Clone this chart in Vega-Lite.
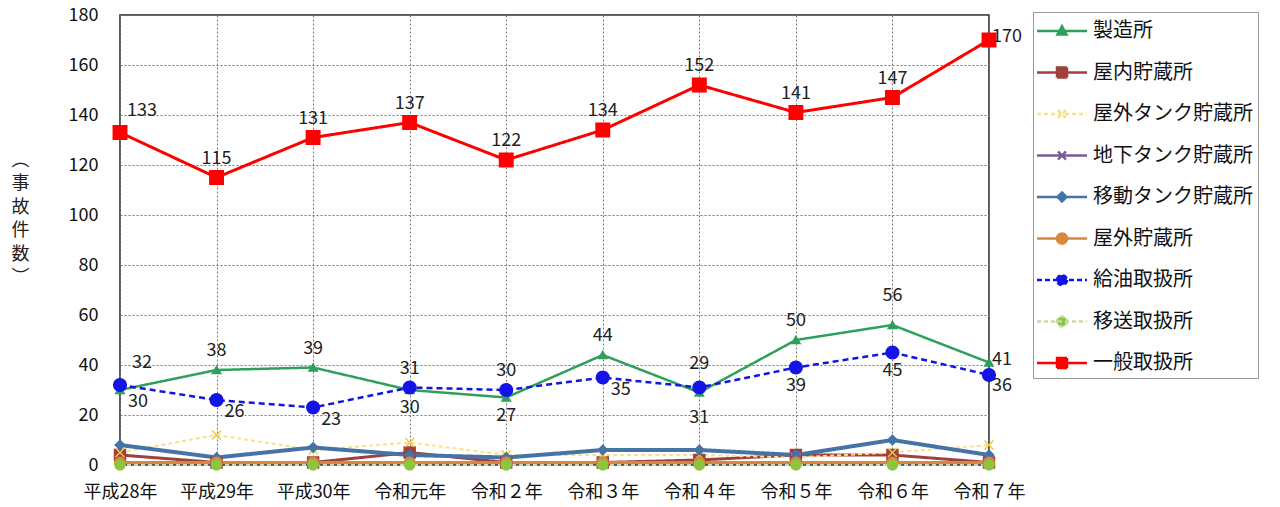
{
  "$schema": "https://vega.github.io/schema/vega-lite/v6.json",
  "width": 869,
  "height": 450,
  "autosize": {"type": "none"},
  "padding": {"left": 120, "top": 15, "right": 291, "bottom": 42},
  "background": "white",
  "config": {
    "font": "Noto Sans CJK JP",
    "view": {"stroke": "#222", "strokeWidth": 1.5},
    "axis": {"labelFont": "Noto Sans CJK JP", "labelColor": "#111", "labelFontSize": 18, "domain": false, "ticks": false, "gridColor": "#777", "gridDash": [2, 2], "gridWidth": 1}
  },
  "data": {"values": [
    {"series":"製造所","year":"平成28年","value":30},{"series":"製造所","year":"平成29年","value":38},{"series":"製造所","year":"平成30年","value":39},{"series":"製造所","year":"令和元年","value":30},{"series":"製造所","year":"令和２年","value":27},{"series":"製造所","year":"令和３年","value":44},{"series":"製造所","year":"令和４年","value":29},{"series":"製造所","year":"令和５年","value":50},{"series":"製造所","year":"令和６年","value":56},{"series":"製造所","year":"令和７年","value":41},
    {"series":"屋内貯蔵所","year":"平成28年","value":4},{"series":"屋内貯蔵所","year":"平成29年","value":1},{"series":"屋内貯蔵所","year":"平成30年","value":1},{"series":"屋内貯蔵所","year":"令和元年","value":5},{"series":"屋内貯蔵所","year":"令和２年","value":1},{"series":"屋内貯蔵所","year":"令和３年","value":1},{"series":"屋内貯蔵所","year":"令和４年","value":2},{"series":"屋内貯蔵所","year":"令和５年","value":4},{"series":"屋内貯蔵所","year":"令和６年","value":4},{"series":"屋内貯蔵所","year":"令和７年","value":1},
    {"series":"屋外タンク貯蔵所","year":"平成28年","value":5},{"series":"屋外タンク貯蔵所","year":"平成29年","value":12},{"series":"屋外タンク貯蔵所","year":"平成30年","value":6},{"series":"屋外タンク貯蔵所","year":"令和元年","value":9},{"series":"屋外タンク貯蔵所","year":"令和２年","value":4},{"series":"屋外タンク貯蔵所","year":"令和３年","value":4},{"series":"屋外タンク貯蔵所","year":"令和４年","value":4},{"series":"屋外タンク貯蔵所","year":"令和５年","value":3},{"series":"屋外タンク貯蔵所","year":"令和６年","value":5},{"series":"屋外タンク貯蔵所","year":"令和７年","value":8},
    {"series":"地下タンク貯蔵所","year":"平成28年","value":1},{"series":"地下タンク貯蔵所","year":"平成29年","value":1},{"series":"地下タンク貯蔵所","year":"平成30年","value":1},{"series":"地下タンク貯蔵所","year":"令和元年","value":1},{"series":"地下タンク貯蔵所","year":"令和２年","value":1},{"series":"地下タンク貯蔵所","year":"令和３年","value":1},{"series":"地下タンク貯蔵所","year":"令和４年","value":1},{"series":"地下タンク貯蔵所","year":"令和５年","value":1},{"series":"地下タンク貯蔵所","year":"令和６年","value":1},{"series":"地下タンク貯蔵所","year":"令和７年","value":1},
    {"series":"移動タンク貯蔵所","year":"平成28年","value":8},{"series":"移動タンク貯蔵所","year":"平成29年","value":3},{"series":"移動タンク貯蔵所","year":"平成30年","value":7},{"series":"移動タンク貯蔵所","year":"令和元年","value":4},{"series":"移動タンク貯蔵所","year":"令和２年","value":3},{"series":"移動タンク貯蔵所","year":"令和３年","value":6},{"series":"移動タンク貯蔵所","year":"令和４年","value":6},{"series":"移動タンク貯蔵所","year":"令和５年","value":4},{"series":"移動タンク貯蔵所","year":"令和６年","value":10},{"series":"移動タンク貯蔵所","year":"令和７年","value":4},
    {"series":"屋外貯蔵所","year":"平成28年","value":1},{"series":"屋外貯蔵所","year":"平成29年","value":1},{"series":"屋外貯蔵所","year":"平成30年","value":1},{"series":"屋外貯蔵所","year":"令和元年","value":1},{"series":"屋外貯蔵所","year":"令和２年","value":1},{"series":"屋外貯蔵所","year":"令和３年","value":1},{"series":"屋外貯蔵所","year":"令和４年","value":1},{"series":"屋外貯蔵所","year":"令和５年","value":1},{"series":"屋外貯蔵所","year":"令和６年","value":1},{"series":"屋外貯蔵所","year":"令和７年","value":1},
    {"series":"給油取扱所","year":"平成28年","value":32},{"series":"給油取扱所","year":"平成29年","value":26},{"series":"給油取扱所","year":"平成30年","value":23},{"series":"給油取扱所","year":"令和元年","value":31},{"series":"給油取扱所","year":"令和２年","value":30},{"series":"給油取扱所","year":"令和３年","value":35},{"series":"給油取扱所","year":"令和４年","value":31},{"series":"給油取扱所","year":"令和５年","value":39},{"series":"給油取扱所","year":"令和６年","value":45},{"series":"給油取扱所","year":"令和７年","value":36},
    {"series":"移送取扱所","year":"平成28年","value":0},{"series":"移送取扱所","year":"平成29年","value":0},{"series":"移送取扱所","year":"平成30年","value":0},{"series":"移送取扱所","year":"令和元年","value":0},{"series":"移送取扱所","year":"令和２年","value":0},{"series":"移送取扱所","year":"令和３年","value":0},{"series":"移送取扱所","year":"令和４年","value":0},{"series":"移送取扱所","year":"令和５年","value":0},{"series":"移送取扱所","year":"令和６年","value":0},{"series":"移送取扱所","year":"令和７年","value":0},
    {"series":"一般取扱所","year":"平成28年","value":133},{"series":"一般取扱所","year":"平成29年","value":115},{"series":"一般取扱所","year":"平成30年","value":131},{"series":"一般取扱所","year":"令和元年","value":137},{"series":"一般取扱所","year":"令和２年","value":122},{"series":"一般取扱所","year":"令和３年","value":134},{"series":"一般取扱所","year":"令和４年","value":152},{"series":"一般取扱所","year":"令和５年","value":141},{"series":"一般取扱所","year":"令和６年","value":147},{"series":"一般取扱所","year":"令和７年","value":170}
  ]},
  "encoding": {
    "x": {"field": "year", "type": "ordinal", "sort": ["平成28年","平成29年","平成30年","令和元年","令和２年","令和３年","令和４年","令和５年","令和６年","令和７年"], "scale": {"type": "point", "padding": 0}, "axis": {"title": null, "labelAngle": 0, "labelPadding": 18, "grid": true}},
    "y": {"field": "value", "type": "quantitative", "scale": {"domain": [0, 180], "nice": false}, "axis": {"values": [0,20,40,60,80,100,120,140,160,180], "labelPadding": 22, "title": ["︵","事","故","件","数","︶"], "titleAngle": 0, "titleX": -100, "titleY": 136, "titleAlign": "center", "titleBaseline": "top", "titleFontSize": 18, "titleFontWeight": "normal", "titleLineHeight": 23.5, "titleColor": "#222", "titleFont": "Noto Sans CJK JP"}}
  },
  "layer": [
    {
      "mark": {"type": "line"},
      "encoding": {
        "color": {"field": "series", "type": "nominal",
          "scale": {"domain": ["製造所","屋内貯蔵所","屋外タンク貯蔵所","地下タンク貯蔵所","移動タンク貯蔵所","屋外貯蔵所","給油取扱所","移送取扱所","一般取扱所"],
                    "range": ["#2ea05c","#a0403c","#f5e38c","#7a5b96","#4673a6","#d9873b","#1414e6","#c6dca4","#ff0000"]},
          "legend": {"title": null, "orient": "none", "legendX": 913, "legendY": -3, "strokeColor": "#999", "fillColor": "white", "padding": 5,
            "symbolSize": 625, "labelFontSize": 20, "labelFont": "Noto Sans CJK JP", "labelColor": "#111", "rowPadding": 17.5, "symbolOffset": 10, "labelOffset": 17, "labelLimit": 300,
            "encode": {"symbols": {"update": {
              "shape": {"signal": "datum.value==='製造所' ? 'M-2,0H2M0,-0.38L0.36,0.28H-0.36Z' : (datum.value==='屋内貯蔵所' || datum.value==='一般取扱所') ? 'M-2,0H2M-0.4,-0.4H0.4V0.4H-0.4Z' : (datum.value==='屋外タンク貯蔵所' || datum.value==='地下タンク貯蔵所') ? 'M-2,0H2M-0.32,-0.32L0.32,0.32M-0.32,0.32L0.32,-0.32' : datum.value==='移動タンク貯蔵所' ? 'M-2,0H2M0,-0.36L0.36,0L0,0.36L-0.36,0Z' : 'M-2,0H2M0.4,0A0.4,0.4 0 1,1 -0.4,0A0.4,0.4 0 1,1 0.4,0Z'"},
              "fill": {"signal": "datum.value==='屋外タンク貯蔵所' ? '#f2c744' : datum.value==='移送取扱所' ? '#8cc63f' : scale('color', datum.value)"},
              "stroke": {"signal": "scale('color', datum.value)"},
              "strokeWidth": {"value": 2.5},
              "strokeDash": {"signal": "(datum.value==='給油取扱所') ? [5,3] : (datum.value==='屋外タンク貯蔵所' || datum.value==='移送取扱所') ? [4,3] : [1,0]"},
              "opacity": {"value": 1}
            }}}
          }},
        "strokeDash": {"condition": [{"test": "datum.series==='給油取扱所'", "value": [6, 4]}, {"test": "datum.series==='屋外タンク貯蔵所' || datum.series==='移送取扱所'", "value": [4, 3]}], "value": [1, 0]},
        "strokeWidth": {"condition": [{"test": "datum.series==='移動タンク貯蔵所'", "value": 4}, {"test": "datum.series==='屋外タンク貯蔵所' || datum.series==='移送取扱所'", "value": 2}, {"test": "datum.series==='製造所' || datum.series==='給油取扱所'", "value": 2.5}], "value": 3}
      }
    },
    {
      "mark": {"type": "point", "filled": true, "opacity": 1, "strokeWidth": 1.5},
      "encoding": {
        "shape": {"condition": [{"test": "datum.series==='製造所'", "value": "triangle-up"}, {"test": "datum.series==='屋内貯蔵所' || datum.series==='一般取扱所'", "value": "square"}, {"test": "datum.series==='屋外タンク貯蔵所' || datum.series==='地下タンク貯蔵所'", "value": "M-1,-1L1,1M-1,1L1,-1"}, {"test": "datum.series==='移動タンク貯蔵所'", "value": "diamond"}], "value": "circle"},
        "fill": {"condition": [{"test": "datum.series==='製造所'", "value": "#2ea05c"}, {"test": "datum.series==='屋内貯蔵所'", "value": "#a0403c"}, {"test": "datum.series==='屋外タンク貯蔵所'", "value": "#f2c744"}, {"test": "datum.series==='地下タンク貯蔵所'", "value": "#7a5b96"}, {"test": "datum.series==='移動タンク貯蔵所'", "value": "#4673a6"}, {"test": "datum.series==='屋外貯蔵所'", "value": "#d9873b"}, {"test": "datum.series==='給油取扱所'", "value": "#1414e6"}, {"test": "datum.series==='移送取扱所'", "value": "#8cc63f"}], "value": "#ff0000"},
        "stroke": {"condition": [{"test": "datum.series==='製造所'", "value": "#2ea05c"}, {"test": "datum.series==='屋内貯蔵所'", "value": "#a0403c"}, {"test": "datum.series==='屋外タンク貯蔵所'", "value": "#f2c744"}, {"test": "datum.series==='地下タンク貯蔵所'", "value": "#7a5b96"}, {"test": "datum.series==='移動タンク貯蔵所'", "value": "#4673a6"}, {"test": "datum.series==='屋外貯蔵所'", "value": "#d9873b"}, {"test": "datum.series==='給油取扱所'", "value": "#1414e6"}, {"test": "datum.series==='移送取扱所'", "value": "#8cc63f"}], "value": "#ff0000"},
        "size": {"condition": [{"test": "datum.series==='製造所'", "value": 70}, {"test": "datum.series==='屋内貯蔵所'", "value": 120}, {"test": "datum.series==='屋外タンク貯蔵所' || datum.series==='地下タンク貯蔵所'", "value": 80}, {"test": "datum.series==='移動タンク貯蔵所'", "value": 90}, {"test": "datum.series==='屋外貯蔵所'", "value": 110}, {"test": "datum.series==='給油取扱所'", "value": 160}, {"test": "datum.series==='移送取扱所'", "value": 100}], "value": 180}
      }
    },
    {
      "transform": [{"filter": "indexof(['一般取扱所|平成29年','一般取扱所|平成30年','一般取扱所|令和元年','一般取扱所|令和２年','一般取扱所|令和３年','一般取扱所|令和４年','一般取扱所|令和５年','一般取扱所|令和６年','製造所|平成29年','製造所|平成30年','製造所|令和３年','製造所|令和５年','給油取扱所|令和元年','給油取扱所|令和２年'], datum.series + '|' + datum.year) >= 0"}],
      "mark": {"type": "text", "fontSize": 18, "color": "#222", "dy": -19},
      "encoding": {"text": {"field": "value"}}
    },
    {
      "transform": [{"filter": "indexof(['製造所|令和４年','製造所|令和６年'], datum.series + '|' + datum.year) >= 0"}],
      "mark": {"type": "text", "fontSize": 18, "color": "#222", "dy": -29},
      "encoding": {"text": {"field": "value"}}
    },
    {
      "transform": [{"filter": "indexof(['製造所|令和元年','製造所|令和２年','給油取扱所|令和５年','給油取扱所|令和６年'], datum.series + '|' + datum.year) >= 0"}],
      "mark": {"type": "text", "fontSize": 18, "color": "#222", "dy": 18},
      "encoding": {"text": {"field": "value"}}
    },
    {
      "transform": [{"filter": "indexof(['給油取扱所|令和４年'], datum.series + '|' + datum.year) >= 0"}],
      "mark": {"type": "text", "fontSize": 18, "color": "#222", "dy": 30},
      "encoding": {"text": {"field": "value"}}
    },
    {
      "transform": [{"filter": "indexof(['製造所|平成28年','給油取扱所|平成29年','給油取扱所|平成30年','給油取扱所|令和３年'], datum.series + '|' + datum.year) >= 0"}],
      "mark": {"type": "text", "fontSize": 18, "color": "#222", "dx": 18, "dy": 12},
      "encoding": {"text": {"field": "value"}}
    },
    {
      "transform": [{"filter": "indexof(['一般取扱所|平成28年','給油取扱所|平成28年'], datum.series + '|' + datum.year) >= 0"}],
      "mark": {"type": "text", "fontSize": 18, "color": "#222", "dx": 22, "dy": -22},
      "encoding": {"text": {"field": "value"}}
    },
    {
      "transform": [{"filter": "datum.year === '令和７年' && indexof(['一般取扱所','製造所'], datum.series) >= 0"}],
      "mark": {"type": "text", "fontSize": 18, "color": "#222", "align": "left", "dx": 3, "dy": -3},
      "encoding": {"text": {"field": "value"}}
    },
    {
      "transform": [{"filter": "datum.year === '令和７年' && datum.series === '給油取扱所'"}],
      "mark": {"type": "text", "fontSize": 18, "color": "#222", "align": "left", "dx": 3, "dy": 11},
      "encoding": {"text": {"field": "value"}}
    }
  ]
}
